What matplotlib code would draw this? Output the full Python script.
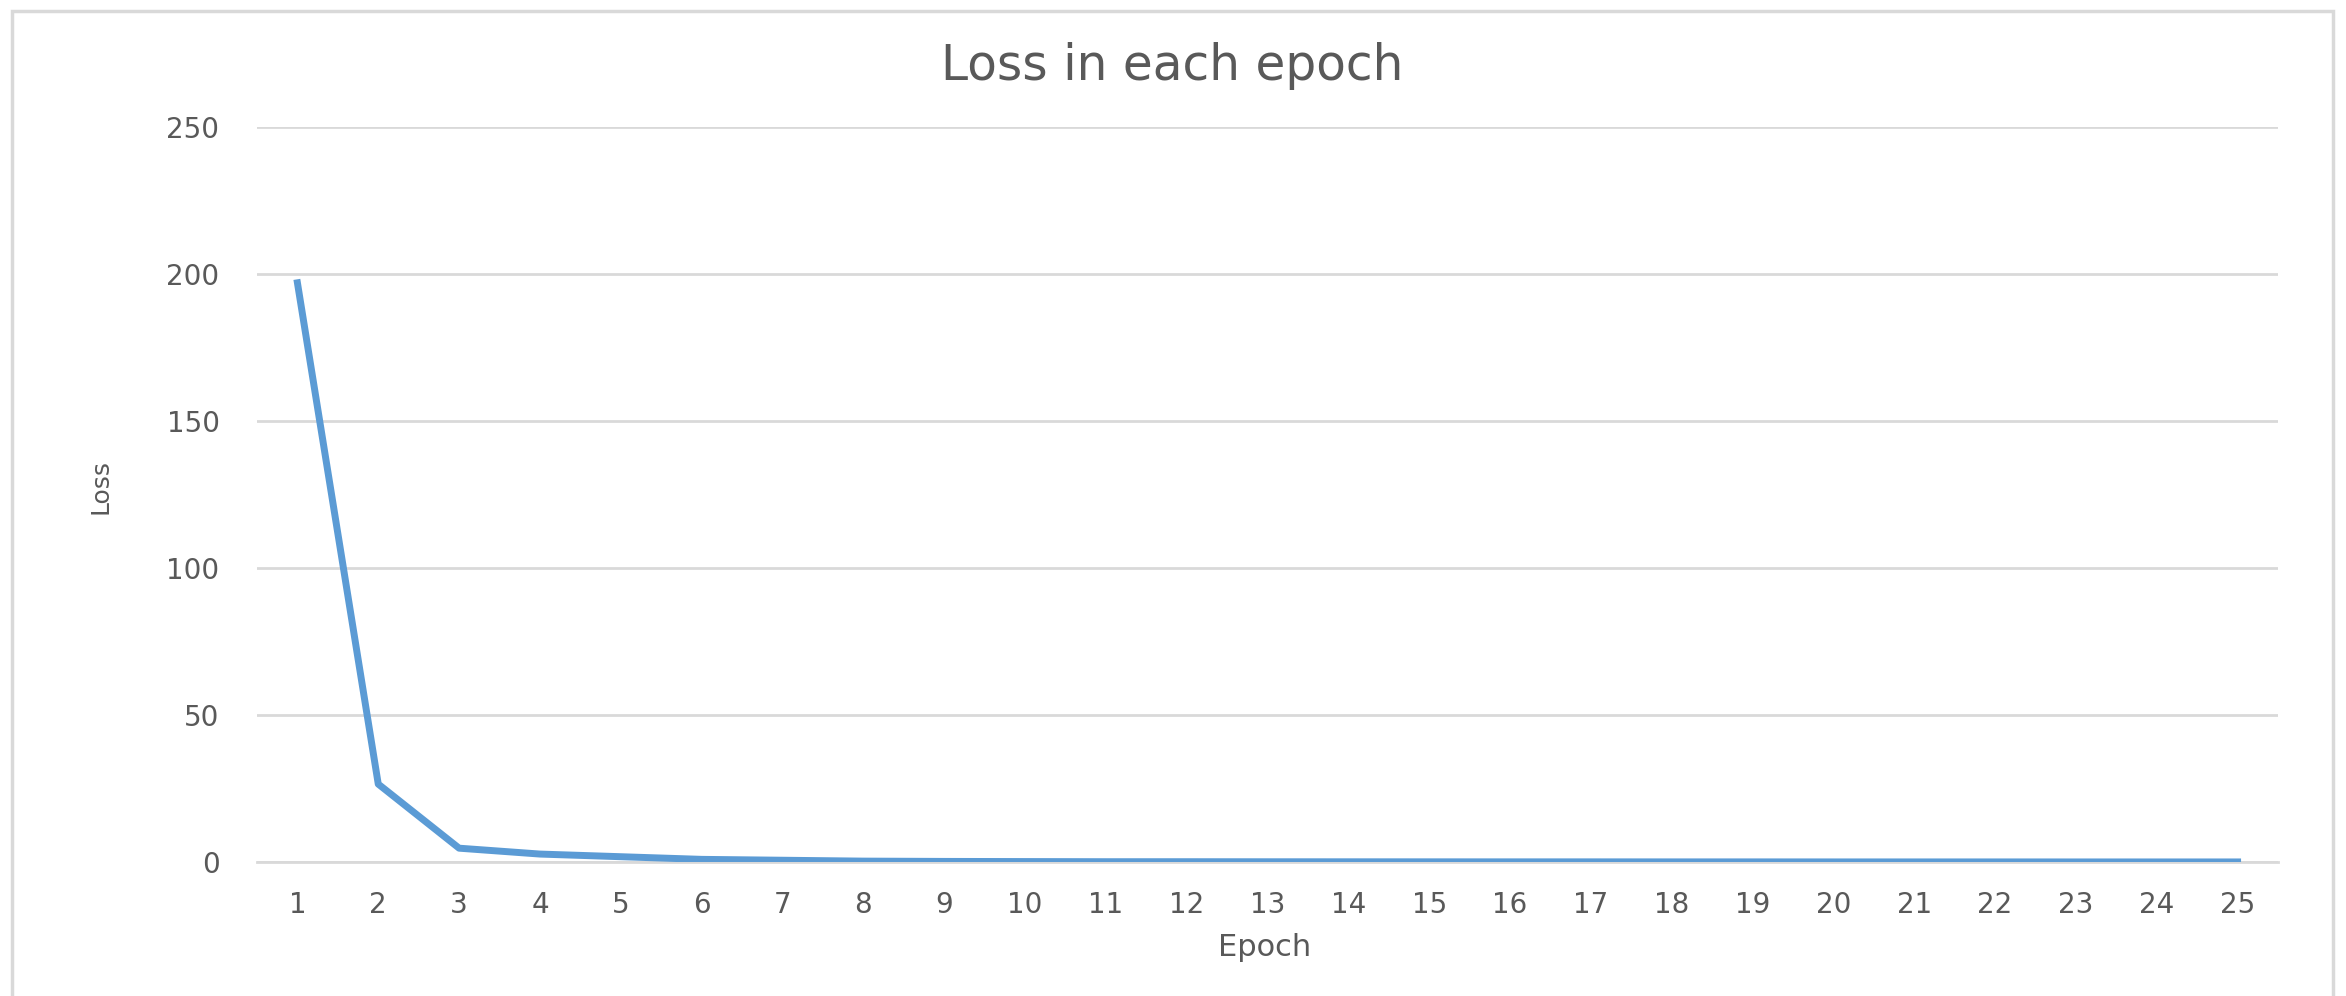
import matplotlib.pyplot as plt
from matplotlib.patches import Rectangle

# data
epochs = [str(i) for i in range(1, 26)]
loss = [197, 26.5, 4.7, 2.7, 1.8, 0.9, 0.6, 0.3, 0.2, 0.15, 0.1, 0.1, 0.08, 0.07,
        0.06, 0.05, 0.05, 0.04, 0.04, 0.03, 0.03, 0.03, 0.02, 0.02, 0.02]
y_ticks = [0, 50, 100, 150, 200, 250]

plt.rcParams['font.family'] = ['DejaVu Sans']
TXT = '#595959'
GRID = '#D9D9D9'
W, H = 2346, 996

fig = plt.figure(figsize=(W / 100, H / 100), dpi=100, facecolor='white')
ax = fig.add_axes([257 / W, 1 - 862 / H, (2278 - 257) / W, (862 - 127) / H])

x = list(range(len(epochs)))
ax.plot(x, loss, color='#5B9BD5', linewidth=5, solid_joinstyle='round', zorder=3)

ax.set_xlim(-0.5, len(epochs) - 0.5)
ax.set_ylim(0, 250)
ax.set_yticks(y_ticks)
ax.set_xticks(x)
ax.set_xticklabels(epochs)
ax.tick_params(axis='both', length=0, labelsize=20, colors=TXT)
ax.tick_params(axis='x', pad=21)
ax.tick_params(axis='y', pad=27)
ax.grid(axis='y', color=GRID, linewidth=2)
ax.set_axisbelow(True)
for side in ['top', 'right', 'left']:
    ax.spines[side].set_visible(False)
ax.spines['bottom'].set_color(GRID)
ax.spines['bottom'].set_linewidth(2)

fig.text(1172 / W, 1 - 66 / H, 'Loss in each epoch', ha='center', va='center',
         fontsize=35, color=TXT)
fig.text(1265 / W, 1 - 947 / H, 'Epoch', ha='center', va='center',
         fontsize=22, color=TXT)
fig.text(100 / W, 1 - 486 / H, 'Loss', ha='center', va='center',
         rotation=90, fontsize=18, color=TXT)

# outer chart frame
fig.patches.append(Rectangle((12 / W, -0.05), (2333 - 12) / W, 1.05 - 11 / H,
                             transform=fig.transFigure, fill=False,
                             edgecolor=GRID, linewidth=2.5))

fig.savefig('out.png', dpi=100, facecolor='white')
